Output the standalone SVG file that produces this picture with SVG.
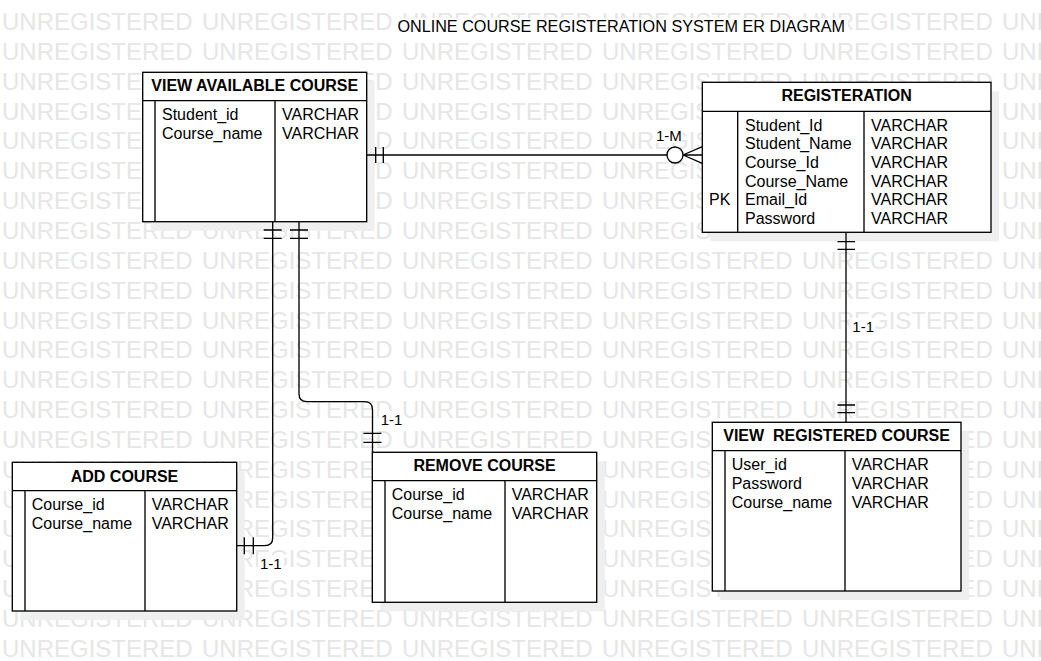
<svg xmlns="http://www.w3.org/2000/svg" width="1041" height="661" viewBox="0 0 1041 661">
<style>
  .wm{font-family:"Liberation Sans",Arial,sans-serif;font-size:24px;fill:#e6e6e6;word-spacing:2.65px}
  .title{font-family:"Liberation Sans",Arial,sans-serif;font-size:16.2px;fill:#000;text-anchor:middle}
  .bg{fill:#fff;stroke:none}
  .shadow{fill:#efefef;stroke:none}
  .box{fill:#fff;stroke:#000;stroke-width:1.33}
  .ln{stroke:#000;stroke-width:1.33;fill:none}
  .hdr{font-family:"Liberation Sans",Arial,sans-serif;font-size:16px;font-weight:bold;fill:#000;text-anchor:middle}
  .fld{font-family:"Liberation Sans",Arial,sans-serif;font-size:16px;fill:#000}
  .lbl{font-family:"Liberation Sans",Arial,sans-serif;font-size:15px;fill:#000}
  .conn path{stroke:#000;stroke-width:1.33;fill:none}
  .conn circle{stroke:#000;stroke-width:1.33;fill:#fff}
</style>
<rect x="0" y="0" width="1041" height="661" fill="#fff"/>
<g id="watermark">
  <text class="wm" x="2" y="30">UNREGISTERED UNREGISTERED UNREGISTERED UNREGISTERED UNREGISTERED UNREGISTERED</text>
  <text class="wm" x="2" y="59.85">UNREGISTERED UNREGISTERED UNREGISTERED UNREGISTERED UNREGISTERED UNREGISTERED</text>
  <text class="wm" x="2" y="89.7">UNREGISTERED UNREGISTERED UNREGISTERED UNREGISTERED UNREGISTERED UNREGISTERED</text>
  <text class="wm" x="2" y="119.55">UNREGISTERED UNREGISTERED UNREGISTERED UNREGISTERED UNREGISTERED UNREGISTERED</text>
  <text class="wm" x="2" y="149.4">UNREGISTERED UNREGISTERED UNREGISTERED UNREGISTERED UNREGISTERED UNREGISTERED</text>
  <text class="wm" x="2" y="179.25">UNREGISTERED UNREGISTERED UNREGISTERED UNREGISTERED UNREGISTERED UNREGISTERED</text>
  <text class="wm" x="2" y="209.1">UNREGISTERED UNREGISTERED UNREGISTERED UNREGISTERED UNREGISTERED UNREGISTERED</text>
  <text class="wm" x="2" y="238.95">UNREGISTERED UNREGISTERED UNREGISTERED UNREGISTERED UNREGISTERED UNREGISTERED</text>
  <text class="wm" x="2" y="268.8">UNREGISTERED UNREGISTERED UNREGISTERED UNREGISTERED UNREGISTERED UNREGISTERED</text>
  <text class="wm" x="2" y="298.65">UNREGISTERED UNREGISTERED UNREGISTERED UNREGISTERED UNREGISTERED UNREGISTERED</text>
  <text class="wm" x="2" y="328.5">UNREGISTERED UNREGISTERED UNREGISTERED UNREGISTERED UNREGISTERED UNREGISTERED</text>
  <text class="wm" x="2" y="358.35">UNREGISTERED UNREGISTERED UNREGISTERED UNREGISTERED UNREGISTERED UNREGISTERED</text>
  <text class="wm" x="2" y="388.2">UNREGISTERED UNREGISTERED UNREGISTERED UNREGISTERED UNREGISTERED UNREGISTERED</text>
  <text class="wm" x="2" y="418.05">UNREGISTERED UNREGISTERED UNREGISTERED UNREGISTERED UNREGISTERED UNREGISTERED</text>
  <text class="wm" x="2" y="447.9">UNREGISTERED UNREGISTERED UNREGISTERED UNREGISTERED UNREGISTERED UNREGISTERED</text>
  <text class="wm" x="2" y="477.75">UNREGISTERED UNREGISTERED UNREGISTERED UNREGISTERED UNREGISTERED UNREGISTERED</text>
  <text class="wm" x="2" y="507.6">UNREGISTERED UNREGISTERED UNREGISTERED UNREGISTERED UNREGISTERED UNREGISTERED</text>
  <text class="wm" x="2" y="537.45">UNREGISTERED UNREGISTERED UNREGISTERED UNREGISTERED UNREGISTERED UNREGISTERED</text>
  <text class="wm" x="2" y="567.3">UNREGISTERED UNREGISTERED UNREGISTERED UNREGISTERED UNREGISTERED UNREGISTERED</text>
  <text class="wm" x="2" y="597.15">UNREGISTERED UNREGISTERED UNREGISTERED UNREGISTERED UNREGISTERED UNREGISTERED</text>
  <text class="wm" x="2" y="627">UNREGISTERED UNREGISTERED UNREGISTERED UNREGISTERED UNREGISTERED UNREGISTERED</text>
  <text class="wm" x="2" y="656.85">UNREGISTERED UNREGISTERED UNREGISTERED UNREGISTERED UNREGISTERED UNREGISTERED</text>
</g>
<g id="title">
  <rect class="bg" x="393" y="18.3" width="455" height="17.5"/>
  <text class="title" x="621.2" y="32.3">ONLINE COURSE REGISTERATION SYSTEM ER DIAGRAM</text>
</g>
<g id="view-available-course">
  <rect class="shadow" x="150.7" y="81.3" width="224" height="149.4"/>
  <rect class="box" x="142.7" y="72.3" width="224" height="149.4"/>
  <path class="ln" d="M142.7 100.7H366.7M155 100.7V221.7M275 100.7V221.7"/>
  <text class="hdr" x="254.7" y="91">VIEW AVAILABLE COURSE</text>
  <text class="fld" x="162" y="120">Student_id</text>
  <text class="fld" x="162" y="139">Course_name</text>
  <text class="fld" x="282" y="120">VARCHAR</text>
  <text class="fld" x="282" y="139">VARCHAR</text>
</g>
<g id="registeration">
  <rect class="shadow" x="710.3" y="91.3" width="288.7" height="150"/>
  <rect class="box" x="702.3" y="82.3" width="288.7" height="150"/>
  <path class="ln" d="M702.3 111.3H991M737.7 111.3V232.3M864 111.3V232.3"/>
  <text class="hdr" x="846.6" y="101">REGISTERATION</text>
  <text class="fld" x="709" y="205.1">PK</text>
  <text class="fld" x="745" y="130.7">Student_Id</text>
  <text class="fld" x="745" y="149.3">Student_Name</text>
  <text class="fld" x="745" y="167.9">Course_Id</text>
  <text class="fld" x="745" y="186.5">Course_Name</text>
  <text class="fld" x="745" y="205.1">Email_Id</text>
  <text class="fld" x="745" y="223.7">Password</text>
  <text class="fld" x="871" y="130.7">VARCHAR</text>
  <text class="fld" x="871" y="149.3">VARCHAR</text>
  <text class="fld" x="871" y="167.9">VARCHAR</text>
  <text class="fld" x="871" y="186.5">VARCHAR</text>
  <text class="fld" x="871" y="205.1">VARCHAR</text>
  <text class="fld" x="871" y="223.7">VARCHAR</text>
</g>
<g id="add-course">
  <rect class="shadow" x="20.3" y="471.3" width="224.4" height="148.7"/>
  <rect class="box" x="12.3" y="462.3" width="224.4" height="148.7"/>
  <path class="ln" d="M12.3 490.7H236.7M25 490.7V611M145 490.7V611"/>
  <text class="hdr" x="124.5" y="481.5">ADD COURSE</text>
  <text class="fld" x="31.7" y="510">Course_id</text>
  <text class="fld" x="31.7" y="529">Course_name</text>
  <text class="fld" x="151.7" y="510">VARCHAR</text>
  <text class="fld" x="151.7" y="529">VARCHAR</text>
</g>
<g id="remove-course">
  <rect class="shadow" x="380.3" y="461.3" width="224.4" height="150"/>
  <rect class="box" x="372.3" y="452.3" width="224.4" height="150"/>
  <path class="ln" d="M372.3 480.7H596.7M385 480.7V602.3M505 480.7V602.3"/>
  <text class="hdr" x="484.5" y="471">REMOVE COURSE</text>
  <text class="fld" x="391.7" y="500">Course_id</text>
  <text class="fld" x="391.7" y="519">Course_name</text>
  <text class="fld" x="511.7" y="500">VARCHAR</text>
  <text class="fld" x="511.7" y="519">VARCHAR</text>
</g>
<g id="view-registered-course">
  <rect class="shadow" x="720.3" y="431.3" width="248.7" height="168.7"/>
  <rect class="box" x="712.3" y="422.3" width="248.7" height="168.7"/>
  <path class="ln" d="M712.3 450.7H961M725 450.7V591M845 450.7V591"/>
  <text class="hdr" x="836.6" y="441" xml:space="preserve">VIEW  REGISTERED COURSE</text>
  <text class="fld" x="731.7" y="470">User_id</text>
  <text class="fld" x="731.7" y="489">Password</text>
  <text class="fld" x="731.7" y="508">Course_name</text>
  <text class="fld" x="851.7" y="470">VARCHAR</text>
  <text class="fld" x="851.7" y="489">VARCHAR</text>
  <text class="fld" x="851.7" y="508">VARCHAR</text>
</g>
<g id="connectors" class="conn">
  <g id="e-vac-reg">
    <path d="M366.7 155H667"/>
    <path d="M375.7 147V163M383.3 147V163"/>
    <circle cx="675" cy="155" r="8"/>
    <path d="M683 155H702.3M683 155L702.3 146.7M683 155L702.3 163.3"/>
  </g>
  <g id="e-vac-add">
    <path d="M272.7 221.7V537.7Q272.7 545.7 264.7 545.7H236.7"/>
    <path d="M263.7 230H281.7M263.7 238.3H281.7"/>
    <path d="M244.3 537.3V554.3M253.3 537.3V554.3"/>
  </g>
  <g id="e-vac-rem">
    <path d="M299 221.7V393.7Q299 401.7 307 401.7H364.5Q372.5 401.7 372.5 409.7V452.3"/>
    <path d="M290 230H308M290 238.3H308"/>
    <path d="M363.5 433.3H381.5M363.5 442.3H381.5"/>
  </g>
  <g id="e-reg-vrc">
    <path d="M846 232.3V422.3"/>
    <path d="M837.5 241.7H855M837.5 249.3H855M837.5 405H855M837.5 412.7H855"/>
  </g>
</g>
<g id="labels">
  <rect class="bg" x="654" y="127" width="28" height="16"/>
  <text class="lbl" x="656" y="140.5">1-M</text>
  <rect class="bg" x="258" y="555" width="26" height="16"/>
  <text class="lbl" x="260" y="568.5">1-1</text>
  <rect class="bg" x="379" y="411" width="25" height="16"/>
  <text class="lbl" x="380.7" y="424.5">1-1</text>
  <rect class="bg" x="850.5" y="318" width="25" height="16"/>
  <text class="lbl" x="852.3" y="331.5">1-1</text>
</g>
</svg>
